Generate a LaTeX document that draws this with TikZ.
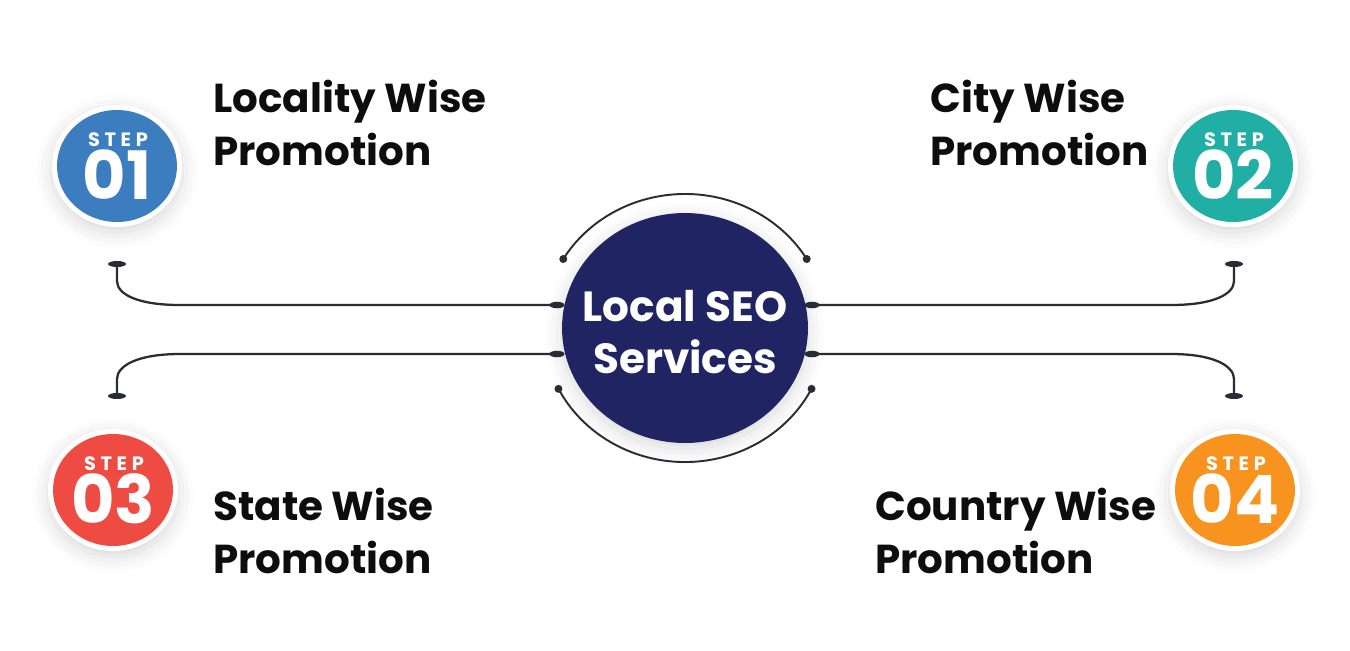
\documentclass[tikz,border=0pt]{standalone}
\usepackage{fontspec}
\setmainfont{Poppins}
\usetikzlibrary{positioning,calc,shapes.geometric,shadows.blur}
\definecolor{stepblue}{HTML}{3B7DBF}
\definecolor{stepteal}{HTML}{21AFA5}
\definecolor{stepred}{HTML}{EE4B43}
\definecolor{steporange}{HTML}{F7931E}
\definecolor{hubnavy}{HTML}{212463}
\definecolor{wirecol}{HTML}{2B2B36}
\definecolor{inkblack}{HTML}{0D0D0D}
\tikzset{
  wire/.style={draw=wirecol, line width=1.3pt},
  softshadow/.style={blur shadow={shadow xshift=0pt, shadow yshift=-3pt, shadow blur radius=9pt, shadow opacity=16}},
  hub/.style={ellipse, fill=hubnavy, inner sep=0pt, minimum width=4.92cm, minimum height=4.6cm, softshadow},
  hubtext/.style={align=center, inner sep=0pt, text=white, font=\bfseries\fontsize{24}{30}\selectfont},
  stepring/.style={ellipse, fill=white, inner sep=0pt, minimum width=2.6cm, minimum height=2.44cm, softshadow},
  stepdisc/.style={ellipse, inner sep=0pt, minimum width=2.4cm, minimum height=2.24cm},
  steptag/.style={text=white, inner sep=0pt, font=\bfseries\fontsize{11}{11}\selectfont\addfontfeature{LetterSpace=24}},
  stepnum/.style={text=white, inner sep=0pt, font=\bfseries\fontsize{38}{38}\selectfont},
  steplabel/.style={anchor=north west, inner sep=0pt, align=left, text=inkblack, font=\bfseries\fontsize{23}{30}\selectfont},
  wirecap/.style={ellipse, fill=wirecol, inner sep=0pt, minimum width=0.36cm, minimum height=0.12cm},
  wiretab/.style={ellipse, fill=wirecol, inner sep=0pt, minimum width=0.3cm, minimum height=0.13cm},
  wiredot/.style={circle, fill=wirecol, inner sep=0pt, minimum size=0.16cm}
}
\begin{document}
\begin{tikzpicture}[x=0.02cm, y=-0.02cm]
  \useasboundingbox (0,0) rectangle (1350,650);
  % Centre hub
  \node[hub] (seo) at (685,328) {};
  \node[hubtext] (seotext) at ($(seo)+(0,4)$) {Local SEO\\Services};
  % Step badges
  \node[stepring] (ring1) at (117,166) {};
  \node[stepdisc, fill=stepblue] (disc1) at (ring1) {};
  \node[steptag] (tag1) at ($(disc1)+(1,-26)$) {STEP};
  \node[stepnum] (num1) at ($(disc1)+(0,9)$) {01};
  \node[stepring] (ring2) at (1233,166) {};
  \node[stepdisc, fill=stepteal] (disc2) at (ring2) {};
  \node[steptag] (tag2) at ($(disc2)+(1,-26)$) {STEP};
  \node[stepnum] (num2) at ($(disc2)+(0,9)$) {02};
  \node[stepring] (ring3) at (113,490) {};
  \node[stepdisc, fill=stepred] (disc3) at (ring3) {};
  \node[steptag] (tag3) at ($(disc3)+(1,-26)$) {STEP};
  \node[stepnum] (num3) at ($(disc3)+(0,9)$) {03};
  \node[stepring] (ring4) at (1235,490) {};
  \node[stepdisc, fill=steporange] (disc4) at (ring4) {};
  \node[steptag] (tag4) at ($(disc4)+(1,-26)$) {STEP};
  \node[stepnum] (num4) at ($(disc4)+(0,9)$) {04};
  % Step labels
  \node[steplabel] (lab1) at (213,80) {Locality Wise\\Promotion};
  \node[steplabel] (lab2) at (930,80) {City Wise\\Promotion};
  \node[steplabel] (lab3) at (213,488) {State Wise\\Promotion};
  \node[steplabel] (lab4) at (875,488) {Country Wise\\Promotion};
  % Wire ends
  \node[wiretab] (tab1) at (557,305) {};
  \node[wiretab] (tab2) at (812,305) {};
  \node[wiretab] (tab3) at (557,354) {};
  \node[wiretab] (tab4) at (812,354) {};
  \node[wirecap] (cap1) at (117,264) {};
  \node[wirecap] (cap2) at (1234,264) {};
  \node[wirecap] (cap3) at (117,396) {};
  \node[wirecap] (cap4) at (1234,396) {};
  % Wires to the badges
  \draw[wire] (tab1.center) -- ($(cap1 |- tab1)+(63,0)$) .. controls ($(cap1 |- tab1)+(20,0)$) and ($(cap1)+(0,30)$) .. ($(cap1)+(0,17)$) -- (cap1.center);
  \draw[wire] (tab2.center) -- ($(cap2 |- tab2)+(-63,0)$) .. controls ($(cap2 |- tab2)+(-20,0)$) and ($(cap2)+(0,30)$) .. ($(cap2)+(0,17)$) -- (cap2.center);
  \draw[wire] (tab3.center) -- ($(cap3 |- tab3)+(63,0)$) .. controls ($(cap3 |- tab3)+(20,0)$) and ($(cap3)+(0,-30)$) .. ($(cap3)+(0,-17)$) -- (cap3.center);
  \draw[wire] (tab4.center) -- ($(cap4 |- tab4)+(-63,0)$) .. controls ($(cap4 |- tab4)+(-20,0)$) and ($(cap4)+(0,-30)$) .. ($(cap4)+(0,-17)$) -- (cap4.center);
  % Arcs round the hub
  \node[wiredot] (dotTL) at ($(seo.center)+(211:142 and 134)$) {};
  \node[wiredot] (dotTR) at ($(seo.center)+(329:142 and 134)$) {};
  \node[wiredot] (dotBR) at ($(seo.center)+(27:142 and 134)$) {};
  \node[wiredot] (dotBL) at ($(seo.center)+(153:142 and 134)$) {};
  \draw[wire, line width=1.1pt] (dotTL.center) arc[start angle=211, end angle=329, x radius=142, y radius=134];
  \draw[wire, line width=1.1pt] (dotBR.center) arc[start angle=27, end angle=153, x radius=142, y radius=134];
\end{tikzpicture}
\end{document}
